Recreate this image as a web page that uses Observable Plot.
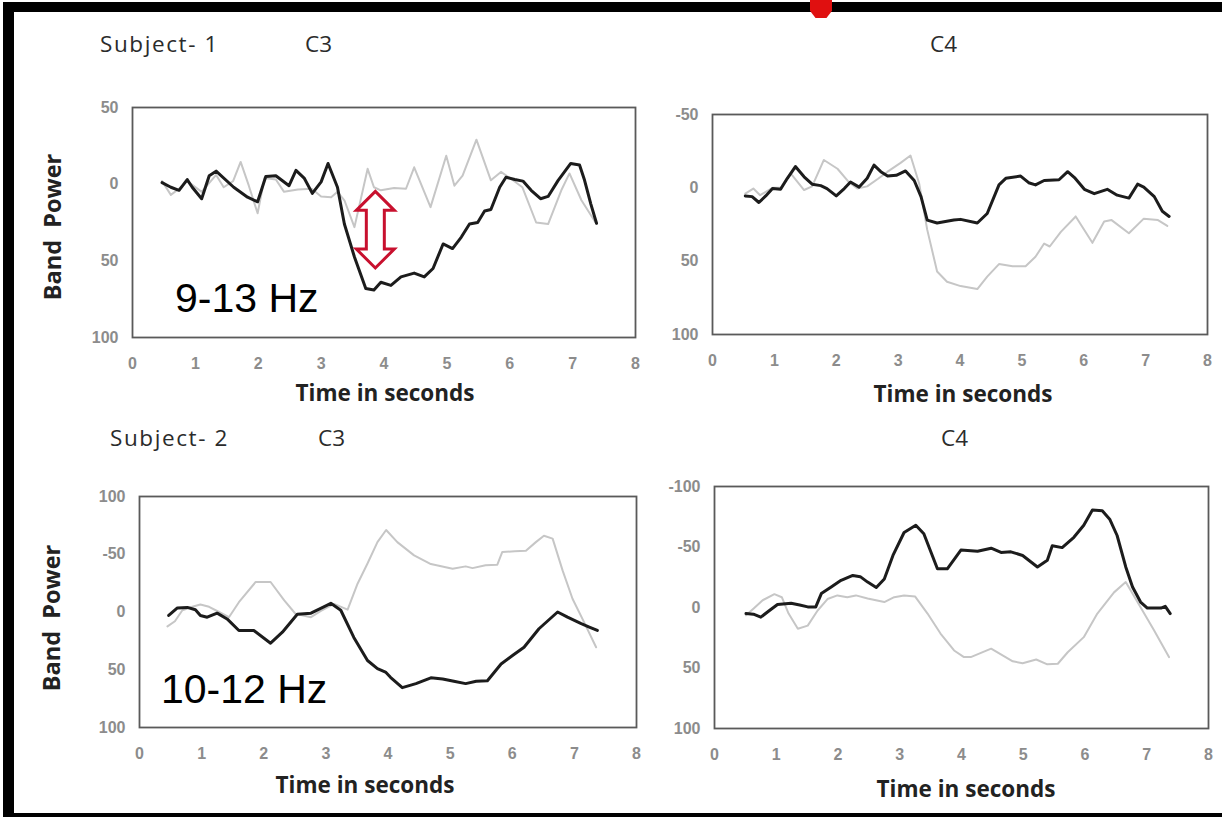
<!DOCTYPE html>
<html>
<head>
<meta charset="utf-8">
<script src="https://cdn.jsdelivr.net/npm/d3@7"></script>
<script src="https://cdn.jsdelivr.net/npm/@observablehq/plot@0.6"></script>
<style>
html, body { margin: 0; padding: 0; background: #fff; }
#page { position: relative; width: 1222px; height: 817px; overflow: hidden; background: #fff; }
.bar { position: absolute; background: #000; }
.panel { position: absolute; }
#overlay { position: absolute; left: 0; top: 0; pointer-events: none; }
</style>
</head>
<body>
<div id="page"></div>
<script>
// ---------------- DATA ----------------
const xTicks = [0, 1, 2, 3, 4, 5, 6, 7, 8];

const s1YTicks = [-50, 0, 50, 100];
const s1C3YLabels = ["50", "0", "50", "100"];
const s1C4YLabels = ["-50", "0", "50", "100"];
const s2YTicks = [-100, -50, 0, 50, 100];
const s2C3YLabels = ["100", "-50", "0", "50", "100"];
const s2C4YLabels = ["-100", "-50", "0", "50", "100"];

// Subject 1, C3 (9-13 Hz)
const s1C3DarkT = [0.47,0.61,0.74,0.87,0.95,1.10,1.22,1.33,1.61,1.83,1.99,2.12,2.28,2.49,2.60,2.73,2.86,3.00,3.11,3.26,3.37,3.53,3.71,3.84,3.95,4.11,4.27,4.48,4.64,4.78,4.94,5.09,5.23,5.36,5.49,5.60,5.70,5.84,5.94,6.08,6.21,6.34,6.49,6.61,6.77,6.97,7.11,7.19,7.29,7.38];
const s1C3DarkV = [-1,2,4,-3,2,9.5,-5.5,-8.5,2,8.5,11.5,-5,-5.5,1,-9,-4,6,-1.5,-13.5,2,26,47.5,68,69,64,66,60.5,58,60.5,55,39,42,34.5,26,25,17.5,16.5,2,-4.5,-3,-2,4,9.5,8,-2.5,-13.5,-12.5,-2.5,13,25.5];
const s1C3GreyT = [0.47,0.61,0.74,0.87,1.10,1.33,1.45,1.60,1.72,1.85,1.99,2.10,2.28,2.41,2.63,2.85,3.00,3.16,3.26,3.37,3.53,3.74,3.84,3.95,4.16,4.35,4.48,4.74,4.99,5.12,5.25,5.47,5.70,5.86,6.02,6.20,6.42,6.61,6.82,6.95,7.14,7.38];
const s1C3GreyV = [-2,7,3,-2,5,-6,2,-2,-14.5,1,19,-4,-3,5,3.5,3,8,8.5,5,10.5,28,-10,2,4,2.5,3,-11,15,-18.5,1,-5.5,-29,-2.5,-8,-3.5,2,25,26,4,-7,10.5,26];

// Subject 1, C4
const s1C4DarkT = [0.53,0.64,0.75,0.86,0.97,1.10,1.21,1.34,1.48,1.61,1.75,1.85,2.00,2.13,2.23,2.37,2.50,2.61,2.72,2.83,2.97,3.12,3.26,3.37,3.47,3.63,3.90,4.01,4.28,4.44,4.63,4.74,4.98,5.11,5.22,5.36,5.60,5.74,5.85,6.01,6.17,6.38,6.54,6.73,6.87,6.97,7.14,7.27,7.38];
const s1C4DarkV = [5.5,6,10,5.5,0.5,1,-6.5,-14.5,-7.5,-2.5,-1.5,0.5,5.5,0.5,-4,-0.5,-6.5,-15.5,-11,-8,-8.5,-11.5,-5,6,22,24,22,21.5,24,17.5,-2,-6.5,-8,-3.5,-2,-5,-5.5,-11,-7,1,4,1,5,7,-2.5,-0.5,6,16,19.5];
const s1C4GreyT = [0.53,0.66,0.77,0.97,1.10,1.26,1.48,1.61,1.80,2.02,2.20,2.34,2.50,2.67,2.83,3.04,3.20,3.34,3.47,3.63,3.79,4.01,4.28,4.44,4.63,4.85,5.06,5.22,5.36,5.45,5.63,5.87,6.14,6.33,6.45,6.73,6.97,7.20,7.35];
const s1C4GreyV = [4,0.5,5,0,0,-10,1.5,-1,-19,-13,-4,0.5,-1,-6,-11,-17,-22,-3,28.5,57,64,67,69,60.5,52,53.5,53.5,47,38,40,30,19.5,37.5,23,22,31,21,22,26];

// Subject 2, C3 (10-12 Hz)
const s2C3DarkT = [0.47,0.61,0.77,0.90,0.98,1.09,1.25,1.41,1.60,1.84,2.11,2.30,2.54,2.76,2.95,3.08,3.24,3.45,3.67,3.83,3.96,4.04,4.23,4.45,4.69,4.88,5.06,5.25,5.42,5.60,5.82,6.01,6.19,6.43,6.73,6.89,7.11,7.24,7.37];
const s2C3DarkV = [3,-3.5,-4,-2,3,4.5,1,6,16,16,27,17.5,2,1,-4,-7.5,-1.5,22,42,49,52,56.5,65.5,62,57,58,60,62,60,59.5,45,37.5,30.5,14.5,0,4.5,10,13,16];
const s2C3GreyT = [0.45,0.57,0.69,0.85,0.98,1.12,1.28,1.44,1.60,1.87,2.11,2.33,2.51,2.76,2.92,3.13,3.35,3.51,3.67,3.83,3.97,4.15,4.42,4.69,5.04,5.25,5.36,5.57,5.76,5.84,6.04,6.22,6.38,6.51,6.65,6.81,6.97,7.13,7.35];
const s2C3GreyV = [12.5,8,-1.5,-4.5,-6.5,-4.5,0,4.5,-8.5,-26,-26,-10,1.5,4.5,-1,-7,-2,-24.5,-42,-60.5,-71,-60.5,-49,-41.5,-37.5,-39.5,-38,-40.5,-41,-52,-52.5,-53,-60.5,-66,-63.5,-36,-11.5,6,30.5];

// Subject 2, C4
const s2C4DarkT = [0.51,0.63,0.75,0.89,1.02,1.24,1.38,1.51,1.64,1.73,1.89,2.05,2.24,2.36,2.48,2.62,2.75,2.89,3.07,3.26,3.39,3.61,3.77,3.99,4.26,4.48,4.64,4.80,4.99,5.23,5.39,5.47,5.63,5.82,5.98,6.12,6.28,6.40,6.52,6.66,6.77,6.90,7.01,7.23,7.30,7.38];
const s2C4DarkV = [5,5.5,8,2.5,-2.5,-3.5,-2,-0.5,-0.5,-11.5,-17,-22.5,-26.5,-25.5,-21,-16.5,-23.5,-43,-62,-68,-61,-32,-32,-47.5,-46.5,-49,-45.5,-46,-43,-33.5,-39,-51,-49.5,-58,-68,-80.5,-80,-73,-59.5,-33.5,-17,-4.5,0.5,0.5,-1,5];
const s2C4GreyT = [0.51,0.63,0.78,0.97,1.09,1.20,1.35,1.51,1.67,1.83,1.99,2.15,2.29,2.48,2.75,2.91,3.07,3.25,3.45,3.66,3.88,4.04,4.15,4.48,4.83,4.99,5.21,5.39,5.56,5.72,5.98,6.20,6.47,6.66,6.85,7.12,7.36];
const s2C4GreyV = [6.5,1,-6,-11,-8.5,5,17.5,15,2.5,-7,-10,-8.5,-10,-7.5,-4.5,-8.5,-10,-9,5,21.5,35.5,41,41,34,44.5,46,43,47,46.5,37,24.5,5,-12.5,-21,-4.5,19,41];

// Red double-arrow annotation (Subject 1, C3): time and band-power span
const arrowTime = [3.87];
const arrowSpan = [5, 55];

// ---------------- RENDER ----------------
const page = document.getElementById("page");
const toRows = (t, v) => t.map((x, i) => ({t: x, v: v[i]}));

function doubleArrow(ax, ay1, ay2) {
  return (index, scales) => {
    const cx = scales.x(ax), y1 = scales.y(ay1), y2 = scales.y(ay2);
    const hw = 19, hl = 19, sw = 9;
    const pts = [[cx, y1], [cx + hw, y1 + hl], [cx + sw, y1 + hl], [cx + sw, y2 - hl], [cx + hw, y2 - hl],
                 [cx, y2], [cx - hw, y2 - hl], [cx - sw, y2 - hl], [cx - sw, y1 + hl], [cx - hw, y1 + hl]];
    const g = d3.create("svg:g");
    g.append("path").attr("d", "M" + pts.map(p => p.join(",")).join("L") + "Z")
      .attr("fill", "#fff").attr("stroke", "#c8102e").attr("stroke-width", 3).attr("stroke-linejoin", "miter");
    return g.node();
  };
}

function panel(cfg) {
  const ml = 60, mr = 20, mt = 20, mb = 45;
  const w = cfg.fx1 - cfg.fx0 + ml + mr;
  const h = cfg.fy1 - cfg.fy0 + mt + mb;
  const tickStyle = {fontSize: 16, fontWeight: "bold", fill: "#8c8c8c", fontFamily: "Liberation Sans, Arial, sans-serif"};
  const marks = [
    Plot.axisX(xTicks, {tickSize: 0, tickPadding: 20, label: null, tickFormat: d => String(d), ...tickStyle}),
    Plot.axisY(cfg.yTicks, {tickSize: 0, tickPadding: 14, label: null,
      tickFormat: d => cfg.yLabels[cfg.yTicks.indexOf(d)], ...tickStyle}),
    Plot.frame({stroke: "#5a5a5a", strokeWidth: 1.8}),
    Plot.line(toRows(cfg.greyT, cfg.greyV), {x: "t", y: "v", stroke: "#c6c6c6", strokeWidth: 2, strokeLinejoin: "round"}),
    Plot.line(toRows(cfg.darkT, cfg.darkV), {x: "t", y: "v", stroke: "#1c1c1c", strokeWidth: 3, strokeLinejoin: "round"})
  ];
  if (cfg.extra) marks.push(cfg.extra);
  const svg = Plot.plot({
    width: w, height: h,
    marginLeft: ml, marginRight: mr, marginTop: mt, marginBottom: mb,
    style: {background: "transparent", fontFamily: "Liberation Sans, Arial, sans-serif", fontSize: "16px", color: "#8c8c8c", overflow: "visible"},
    x: {domain: [0, 8]},
    y: {domain: [cfg.yTicks[cfg.yTicks.length - 1], cfg.yTicks[0]]},
    marks
  });
  svg.classList.add("panel");
  svg.style.left = (cfg.fx0 - ml) + "px";
  svg.style.top = (cfg.fy0 - mt) + "px";
  svg.style.position = "absolute";
  page.appendChild(svg);
}

panel({fx0: 132, fx1: 635, fy0: 107, fy1: 337, yTicks: s1YTicks, yLabels: s1C3YLabels,
       darkT: s1C3DarkT, darkV: s1C3DarkV, greyT: s1C3GreyT, greyV: s1C3GreyV,
       extra: doubleArrow(arrowTime[0], arrowSpan[0], arrowSpan[1])});
panel({fx0: 712, fx1: 1207, fy0: 114, fy1: 334, yTicks: s1YTicks, yLabels: s1C4YLabels,
       darkT: s1C4DarkT, darkV: s1C4DarkV, greyT: s1C4GreyT, greyV: s1C4GreyV});
panel({fx0: 139, fx1: 636, fy0: 496, fy1: 727, yTicks: s2YTicks, yLabels: s2C3YLabels,
       darkT: s2C3DarkT, darkV: s2C3DarkV, greyT: s2C3GreyT, greyV: s2C3GreyV});
panel({fx0: 714, fx1: 1208, fy0: 486, fy1: 728, yTicks: s2YTicks, yLabels: s2C4YLabels,
       darkT: s2C4DarkT, darkV: s2C4DarkV, greyT: s2C4GreyT, greyV: s2C4GreyV});

// Text overlay
const ov = d3.select(page).append("svg").attr("id", "overlay").attr("width", 1222).attr("height", 817);
function txt(s, x, y, o = {}) {
  const t = ov.append("text").attr("x", x).attr("y", y).text(s)
    .attr("font-family", o.family || "Open Sans, sans-serif")
    .attr("font-size", o.size || 22)
    .attr("font-weight", o.weight || 400)
    .attr("fill", o.fill || "#2b2b2b")
    .attr("text-anchor", o.anchor || "start")
    .style("white-space", "pre");
  if (o.ls) t.attr("letter-spacing", o.ls);
  if (o.rotate) t.attr("transform", `rotate(-90, ${x}, ${y})`);
  return t;
}
txt("Subject- 1", 100, 52, {size: 22.5, ls: 1.6});
txt("C3", 305, 52, {size: 22.5});
txt("C4", 930, 52, {size: 22.5});
txt("Subject- 2", 110, 446, {size: 22.5, ls: 1.6});
txt("C3", 318, 446, {size: 22.5});
txt("C4", 941, 446, {size: 22.5});
const axisT = {size: 22.5, weight: 700, fill: "#222", anchor: "middle"};
txt("Time in seconds", 385, 401, axisT);
txt("Time in seconds", 963, 402, axisT);
txt("Time in seconds", 365, 793, axisT);
txt("Time in seconds", 966, 797, axisT);
txt("Band  Power", 61, 227, {size: 23.5, weight: 700, fill: "#222", anchor: "middle", rotate: true});
txt("Band  Power", 60, 618, {size: 23.5, weight: 700, fill: "#222", anchor: "middle", rotate: true});
txt("9-13 Hz", 175, 312, {family: "Liberation Sans, Arial, sans-serif", size: 41, fill: "#000"});
txt("10-12 Hz", 161, 703, {family: "Liberation Sans, Arial, sans-serif", size: 41, fill: "#000"});

// Slide border and red mark
function bar(l, t, w, h, c) {
  const d = document.createElement("div");
  d.className = "bar";
  Object.assign(d.style, {left: l + "px", top: t + "px", width: w + "px", height: h + "px"});
  if (c) d.style.background = c;
  page.appendChild(d);
  return d;
}
bar(3, 2, 1219, 10);
bar(3, 2, 11, 815);
bar(3, 813, 1219, 4);
const red = bar(810, 0, 22, 18, "#e01010");
red.style.clipPath = "polygon(0 0, 100% 0, 100% 60%, 75% 100%, 25% 100%, 0 60%)";
</script>
</body>
</html>
